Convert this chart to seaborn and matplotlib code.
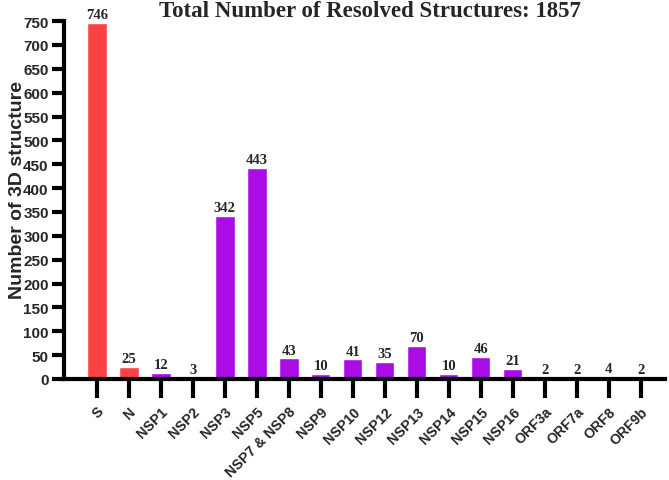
import matplotlib
matplotlib.use("Agg")
import matplotlib.pyplot as plt
import seaborn as sns
import pandas as pd

categories = ["S", "N", "NSP1", "NSP2", "NSP3", "NSP5", "NSP7 & NSP8", "NSP9", "NSP10",
              "NSP12", "NSP13", "NSP14", "NSP15", "NSP16", "ORF3a", "ORF7a", "ORF8", "ORF9b"]
counts = [746, 25, 12, 3, 342, 443, 43, 10, 41, 35, 70, 10, 46, 21, 2, 2, 4, 2]
groups = ["structural", "structural"] + ["nonstructural"] * 16
palette = {"structural": "#F94343", "nonstructural": "#A90DE3"}
yticks = list(range(0, 751, 50))
title = "Total Number of Resolved Structures: 1857"
ylabel = "Number of 3D structure"

sns.set_style("ticks")
plt.rcParams["font.family"] = ["Liberation Sans", "DejaVu Sans"]

df = pd.DataFrame({"cat": categories, "n": counts, "grp": groups})

fig = plt.figure(figsize=(6.69, 4.81), dpi=100)
ax = fig.add_axes([0.0957, 0.21, 0.898, 0.744])
sns.barplot(data=df, x="cat", y="n", hue="grp", palette=palette, dodge=False,
            width=0.6, legend=False, ax=ax, saturation=1)

for i, v in enumerate(counts):
    ax.text(i, v + 4, str(v), ha="center", va="bottom", fontsize=10.5,
            fontweight="bold", family=["Liberation Serif", "DejaVu Serif"])

ax.set_ylim(0, 750)
ax.set_xlim(-1.03, len(categories) - 0.25)
ax.set_yticks(yticks)
ax.set_yticklabels([str(t) for t in yticks], fontsize=11, fontweight="bold")
ax.set_xticks(range(len(categories)))
ax.set_xticklabels(categories, rotation=45, ha="right", rotation_mode="anchor",
                   fontsize=10.2, fontweight="bold")
ax.set_xlabel("")
ax.set_ylabel(ylabel, fontsize=14, fontweight="bold")
ax.yaxis.set_label_coords(-0.064, 0.53)
ax.set_title(title, fontsize=16.5, fontweight="bold",
             family=["Liberation Serif", "DejaVu Serif"], pad=3, x=0.51)

for s in ["top", "right"]:
    ax.spines[s].set_visible(False)
for s in ["left", "bottom"]:
    ax.spines[s].set_linewidth(3)
    ax.spines[s].set_color("black")
ax.tick_params(axis="y", length=9, width=3, color="black", pad=2)
ax.tick_params(axis="x", length=14, width=3, color="black", pad=4)

fig.savefig("out.png", dpi=100)
